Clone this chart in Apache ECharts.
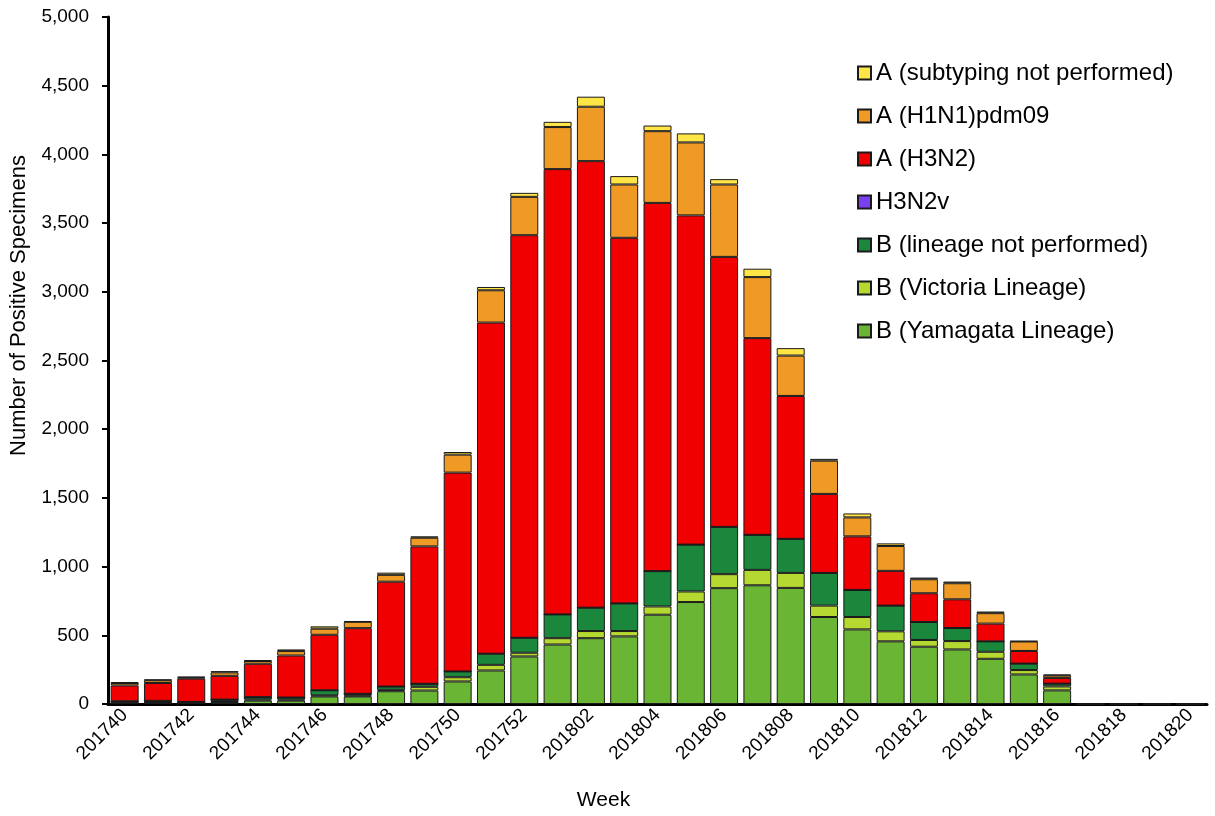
<!DOCTYPE html>
<html>
<head>
<meta charset="utf-8">
<script src="https://cdn.jsdelivr.net/npm/echarts@6/dist/echarts.min.js"></script>
<style>
html,body{margin:0;padding:0;background:#fff;}
#chart{width:1215px;height:816px;}
</style>
</head>
<body>
<div id="chart"></div>
<script>
const weeks = ['201740','201741','201742','201743','201744','201745','201746','201747','201748','201749','201750','201751','201752',
  '201801','201802','201803','201804','201805','201806','201807','201808','201809','201810','201811','201812','201813','201814','201815','201816','201817','201818','201819','201820'];

const yamagata = [8,10,8,15,25,25,55,55,93,98,164,244,346,433,479,492,650,742,843,864,845,633,543,456,417,397,329,215,99,0,0,0,0];
const victoria = [2,3,2,5,8,7,8,6,10,27,31,41,27,46,52,39,60,77,102,112,109,83,90,73,49,61,51,32,29,0,0,0,0];
const bNotPerformed = [10,10,5,12,17,15,37,13,24,22,42,81,109,173,170,201,257,341,344,255,248,238,197,187,131,95,76,47,20,0,0,0,0];
const h3n2v = [0,0,0,0,0,0,0,0,0,0,0,0,0,0,0,0,0,0,0,0,0,0,0,0,0,0,0,0,0,0,0,0,0];
const h3n2 = [115,130,170,173,243,306,404,478,763,1000,1447,2410,2930,3241,3250,2661,2680,2396,1965,1432,1040,575,390,253,209,209,129,92,42,0,0,0,0];
const h1n1 = [18,20,8,25,20,32,44,46,50,63,131,235,279,306,396,388,522,531,527,444,294,242,138,181,102,117,76,69,18,0,0,0,0];
const aUnsubtyped = [6,5,5,9,6,12,17,5,16,10,19,24,29,38,73,61,41,66,39,61,54,13,29,19,12,12,12,4,6,0,0,0,0];

const seriesNames = ['B (Yamagata Lineage)','B (Victoria Lineage)','B (lineage not performed)','H3N2v','A (H3N2)','A (H1N1)pdm09','A (subtyping not performed)'];
const seriesData = [yamagata, victoria, bNotPerformed, h3n2v, h3n2, h1n1, aUnsubtyped];
const seriesColors = ['#6BB535','#B5D930','#1A873C','#7B3FF2','#F00000','#EE9A24','#FFE545'];

const FONT = 'Liberation Sans, Arial, sans-serif';
const chart = echarts.init(document.getElementById('chart'));
chart.setOption({
  animation: false,
  backgroundColor: '#fff',
  grid: {left: 107, right: 8, top: 17, bottom: 112, containLabel: false},
  legend: {
    orient: 'vertical', left: 852, top: 56, itemGap: 19,
    itemWidth: 13, itemHeight: 13, icon: 'rect',
    data: seriesNames.slice().reverse(),
    textStyle: {fontFamily: FONT, fontSize: 24, color: '#000'}
  },
  xAxis: {
    type: 'category', data: weeks,
    name: 'Week', nameLocation: 'middle', nameGap: 86,
    nameTextStyle: {fontFamily: FONT, fontSize: 21, color: '#000', padding: [0, 108, 0, 0]},
    axisLine: {lineStyle: {color: '#000', width: 3}},
    axisTick: {interval: 0, length: 6, lineStyle: {color: '#000', width: 2}},
    axisLabel: {interval: 1, rotate: 45, fontFamily: FONT, fontSize: 19, color: '#000', margin: 8}
  },
  yAxis: {
    type: 'value', min: 0, max: 5000, interval: 500,
    name: 'Number of Positive Specimens', nameLocation: 'middle', nameGap: 78,
    nameTextStyle: {fontFamily: FONT, fontSize: 22, color: '#000', padding: [0, 0, 0, 110]},
    axisLine: {show: true, lineStyle: {color: '#000', width: 3}},
    axisTick: {show: true, length: 6, lineStyle: {color: '#000', width: 2}},
    splitLine: {show: false},
    axisLabel: {fontFamily: FONT, fontSize: 19, color: '#000', margin: 19,
      formatter: v => v.toString().replace(/\B(?=(\d{3})+(?!\d))/g, ',')}
  },
  series: seriesNames.map((n, i) => ({
    name: n, type: 'bar', stack: 'total', data: seriesData[i],
    barCategoryGap: '16%',
    itemStyle: {color: seriesColors[i], borderColor: '#1a1a1a', borderWidth: 1}
  }))
});
</script>
</body>
</html>
